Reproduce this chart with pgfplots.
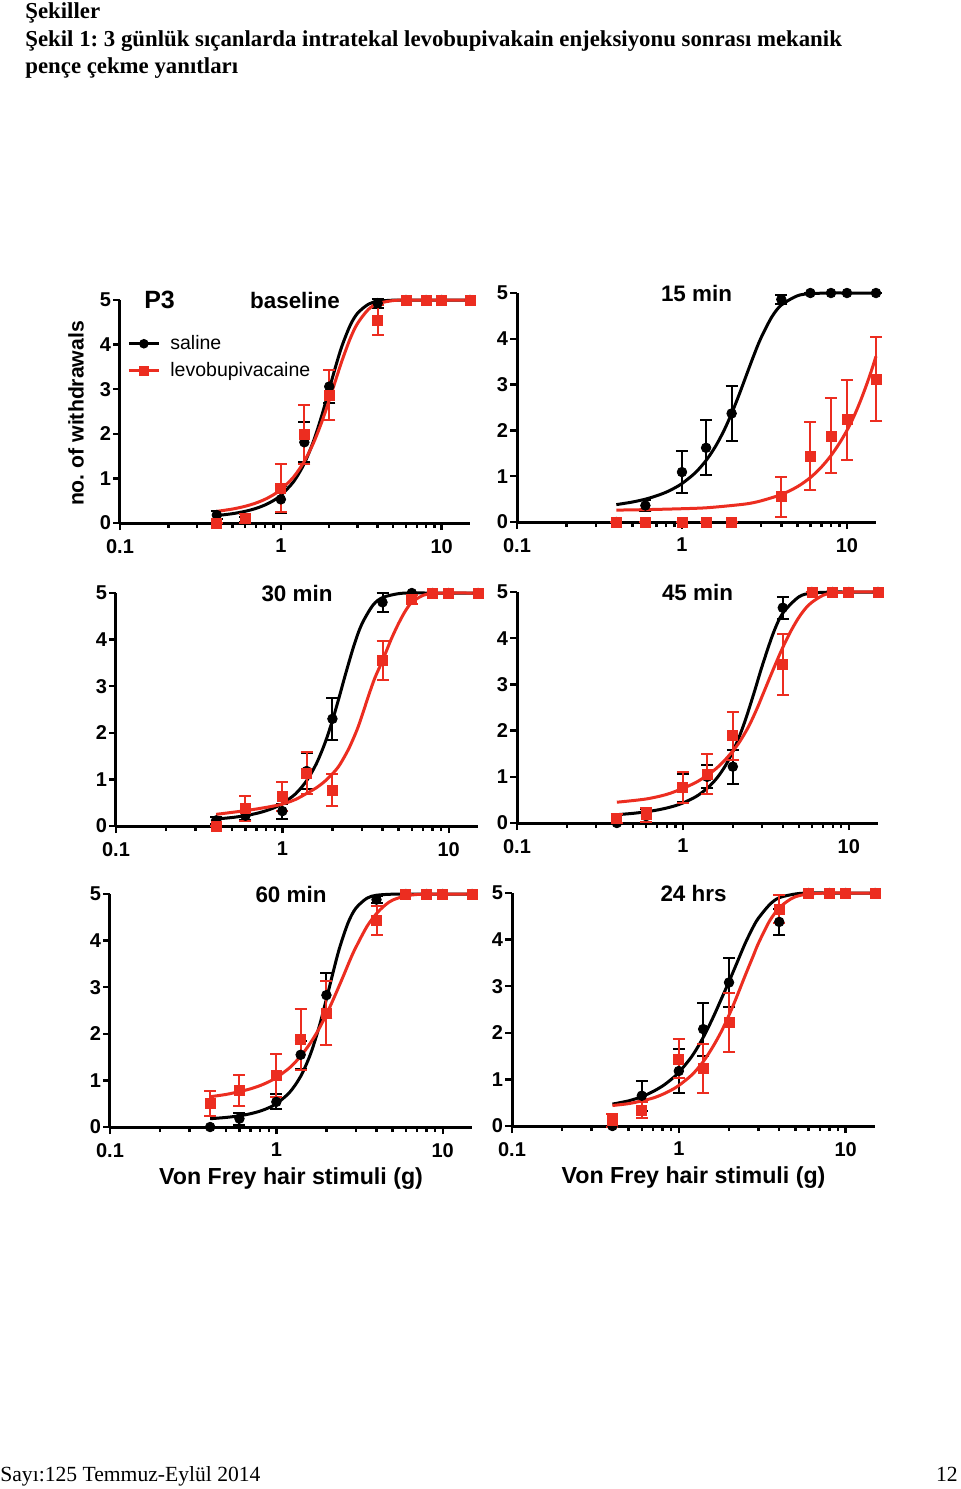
\documentclass[border=0pt]{standalone}
\usepackage{fontspec}
\setmainfont{Liberation Serif}
\setsansfont{Liberation Sans}
\usepackage{pgfplots}
\pgfplotsset{compat=1.18}
\frenchspacing
\definecolor{myred}{RGB}{236,45,32}
\newcommand{\tl}[1]{\textsf{\textbf{#1}}}
\pgfplotsset{
  panel/.style={
    scale only axis,
    xmin=0.1, xmax=15, ymin=0, ymax=5,
    axis lines=left, axis line style={line width=1.5pt, -},
    xtick={0.1,1,10}, xticklabels={\tl{0.1},\tl{1},\tl{10}},
    minor xtick={0.2,0.3,0.4,0.5,0.6,0.7,0.8,0.9,2,3,4,5,6,7,8,9},
    ytick={0,1,2,3,4,5}, yticklabels={\tl{0},\tl{1},\tl{2},\tl{3},\tl{4},\tl{5}},
    tick align=outside, major tick length=3.5pt, minor tick length=2.5pt,
    every tick/.style={black, line width=1.2pt},
    tick label style={font=\sffamily\bfseries\fontsize{10}{12}\selectfont},
    xticklabel style={yshift=-1pt},
    yticklabel style={xshift=2.5pt},
    clip=false, anchor=south west,
  },
  blkc/.style={black, line width=1.5pt, smooth, no markers, forget plot},
  redc/.style={myred, line width=1.5pt, smooth, no markers, forget plot},
  blkp/.style={black, only marks, mark=*, mark size=2.4pt, forget plot,
    error bars/y dir=both, error bars/y explicit,
    error bars/error bar style={line width=1pt, black},
    error bars/error mark options={line width=1pt, mark size=3pt, black, rotate=90}},
  redp/.style={myred, only marks, mark=square*, mark size=2.5pt, forget plot,
    error bars/y dir=both, error bars/y explicit,
    error bars/error bar style={line width=1pt, myred},
    error bars/error mark options={line width=1pt, mark size=3pt, myred, rotate=90}},
}
\newcommand{\ttl}[1]{\node[font=\sffamily\bfseries\fontsize{11.2}{13}\selectfont] at (rel axis cs:0.5,1) {#1};}
\newcommand{\xlab}{\node[font=\sffamily\bfseries\fontsize{11.6}{13}\selectfont] at ([yshift=-26pt]rel axis cs:0.5,0) {Von Frey hair stimuli (g)};}
\begin{document}
\begin{tikzpicture}
\fill[white] (0,0) rectangle (480pt,-744.5pt);
\path[use as bounding box] (0,0) rectangle (480pt,-744.5pt);
% header
\node[anchor=base west, inner sep=0pt, font=\bfseries\fontsize{11.4}{14}\selectfont] at (12.5pt,-9pt) {Şekiller};
\node[anchor=base west, inner sep=0pt, font=\bfseries\fontsize{11.4}{14}\selectfont] at (12.5pt,-23pt) {Şekil 1: 3 günlük sıçanlarda intratekal levobupivakain enjeksiyonu sonrası mekanik};
\node[anchor=base west, inner sep=0pt, font=\bfseries\fontsize{11.4}{14}\selectfont] at (12.5pt,-36.5pt) {pençe çekme yanıtları};
% footer
\node[anchor=base west, inner sep=0pt, font=\fontsize{10.8}{13}\selectfont] at (0pt,-740.5pt) {Sayı:125 Temmuz-Eylül 2014};
\node[anchor=base east, inner sep=0pt, font=\fontsize{10.8}{13}\selectfont] at (479pt,-740.5pt) {12};

% ---------- P1 baseline
\begin{semilogxaxis}[panel, at={(60pt,-261.5pt)}, width=175pt, height=111.5pt,
  legend style={at={(0.02,0.862)}, anchor=north west, draw=none, fill=none,
    font=\sffamily\fontsize{9.75}{12}\selectfont, row sep=1pt, inner sep=0pt},
  legend cell align=left,
  legend image code/.code={\draw[mark repeat=2,mark phase=2,#1] plot coordinates {(0pt,0pt) (7.5pt,0pt) (15pt,0pt)}; \path (18pt,0pt);}]
\addlegendimage{black, line width=1.5pt, mark=*, mark size=1.6pt}
\addlegendentry{saline}
\addlegendimage{myred, line width=1.5pt, mark=square*, mark size=1.8pt}
\addlegendentry{levobupivacaine}
\addplot[blkc] coordinates {(0.4,0.167)(0.5,0.209)(0.6,0.262)(0.7,0.327)(0.8,0.407)(0.9,0.504)(1,0.621)(1.2,0.926)(1.4,1.337)(1.6,1.845)(1.8,2.418)(2,3.001)(2.2,3.531)(2.4,3.970)(2.7,4.433)(3,4.704)(3.5,4.905)(4,4.970)(5,4.997)(6,5)(8,5)(10,5)(15,5)};
\addplot[blkp] table[x=x,y=y,y error=e,row sep=\\]{x y e\\ 0.4 0.18 0.1\\ 0.6 0.08 0.06\\ 1 0.53 0.3\\ 1.4 1.81 0.45\\ 2 3.06 0.36\\ 4 4.93 0.1\\ 6 5 0\\ 8 5 0\\ 10 5 0\\ 15 5 0\\};
\addplot[redc] coordinates {(0.4,0.261)(0.5,0.313)(0.6,0.375)(0.7,0.448)(0.8,0.534)(0.9,0.634)(1,0.750)(1.2,1.031)(1.4,1.385)(1.6,1.805)(1.8,2.273)(2,2.756)(2.2,3.222)(2.4,3.639)(2.7,4.136)(3,4.477)(3.5,4.788)(4,4.918)(5,4.988)(6,4.998)(8,5)(10,5)(15,5)};
\addplot[redp] table[x=x,y=y,y error=e,row sep=\\]{x y e\\ 0.4 0 0\\ 0.6 0.1 0.1\\ 1 0.78 0.54\\ 1.4 1.98 0.66\\ 2 2.87 0.56\\ 4 4.55 0.33\\ 6 5 0\\ 8 5 0\\ 10 5 0\\ 15 5 0\\};
\ttl{baseline}
\node[font=\sffamily\bfseries\fontsize{12.5}{14}\selectfont] at (rel axis cs:0.113,1) {P3};
\node[rotate=90, font=\sffamily\bfseries\fontsize{10.6}{12}\selectfont] at ([xshift=-22pt,yshift=-1pt]rel axis cs:0,0.5) {no. of withdrawals};
\end{semilogxaxis}

% ---------- P2 15 min
\begin{semilogxaxis}[panel, at={(258.5pt,-261pt)}, width=179.5pt, height=114.5pt]
\addplot[blkc] coordinates {(0.4,0.380)(0.5,0.436)(0.6,0.499)(0.7,0.571)(0.8,0.650)(0.9,0.741)(1,0.840)(1.2,1.070)(1.4,1.344)(1.6,1.657)(1.8,2.003)(2,2.371)(2.2,2.744)(2.4,3.108)(2.7,3.600)(3,4.006)(3.5,4.475)(4,4.737)(5,4.939)(6,4.986)(8,5)(10,5)(15,5)};
\addplot[blkp] table[x=x,y=y,y error=e,row sep=\\]{x y e\\ 0.4 0 0\\ 0.6 0.36 0.12\\ 1 1.09 0.45\\ 1.4 1.62 0.6\\ 2 2.37 0.6\\ 4 4.86 0.1\\ 6 5 0\\ 8 5 0\\ 10 5 0\\ 15 5 0\\};
\addplot[redc] coordinates {(0.4,0.26)(0.6,0.27)(1,0.29)(1.4,0.31)(2,0.36)(2.5,0.40)(3,0.46)(4,0.60)(5,0.77)(6,0.97)(7,1.20)(8,1.45)(9,1.72)(10,2.00)(11,2.30)(12,2.62)(13,2.95)(14,3.28)(15,3.62)};
\addplot[redp] table[x=x,y=y,y error=e,row sep=\\]{x y e\\ 0.4 0 0\\ 0.6 0 0\\ 1 0 0\\ 1.4 0 0\\ 2 0 0\\ 4 0.55 0.44\\ 6 1.44 0.74\\ 8 1.88 0.82\\ 10 2.23 0.88\\ 15 3.12 0.91\\};
\ttl{15 min}
\end{semilogxaxis}

% ---------- P3 30 min
\begin{semilogxaxis}[panel, at={(58pt,-413pt)}, width=181pt, height=116.5pt]
\addplot[blkc] coordinates {(0.4,0.150)(0.5,0.183)(0.6,0.223)(0.7,0.271)(0.8,0.329)(0.9,0.398)(1,0.480)(1.2,0.690)(1.4,0.973)(1.6,1.335)(1.8,1.772)(2,2.264)(2.2,2.776)(2.4,3.265)(2.7,3.885)(3,4.329)(3.5,4.737)(4,4.902)(5,4.987)(6,5)(8,5)(10,5)(15,5)};
\addplot[blkp] table[x=x,y=y,y error=e,row sep=\\]{x y e\\ 0.4 0.12 0.08\\ 0.6 0.22 0.1\\ 1 0.32 0.16\\ 1.4 1.18 0.38\\ 2 2.3 0.45\\ 4 4.8 0.2\\ 6 5 0\\ 8 5 0\\ 10 5 0\\ 15 5 0\\};
\addplot[redc] coordinates {(0.4,0.25)(0.6,0.33)(0.8,0.40)(1,0.47)(1.2,0.57)(1.4,0.70)(1.6,0.82)(1.8,0.96)(2,1.12)(2.2,1.30)(2.5,1.65)(2.8,2.05)(3,2.35)(3.3,2.80)(3.6,3.18)(4,3.55)(4.5,4.0)(5,4.35)(5.5,4.62)(6,4.80)(7,4.95)(8,4.99)(10,5)(15,5)};
\addplot[redp] table[x=x,y=y,y error=e,row sep=\\]{x y e\\ 0.4 0 0\\ 0.6 0.37 0.27\\ 1 0.64 0.31\\ 1.4 1.13 0.45\\ 2 0.77 0.35\\ 4 3.55 0.42\\ 6 4.86 0.1\\ 8 5 0\\ 10 5 0\\ 15 5 0\\};
\ttl{30 min}
\end{semilogxaxis}

% ---------- P4 45 min
\begin{semilogxaxis}[panel, at={(258.5pt,-411.5pt)}, width=180.5pt, height=115.5pt]
\addplot[blkc] coordinates {(0.4,0.180)(0.5,0.209)(0.6,0.243)(0.7,0.281)(0.8,0.325)(0.9,0.375)(1,0.433)(1.2,0.572)(1.4,0.750)(1.6,0.969)(1.8,1.234)(2,1.544)(2.2,1.893)(2.4,2.268)(2.7,2.846)(3,3.390)(3.5,4.102)(4,4.542)(5,4.895)(6,4.977)(8,4.999)(10,5)(15,5)};
\addplot[blkp] table[x=x,y=y,y error=e,row sep=\\]{x y e\\ 0.4 0 0\\ 0.6 0.15 0.15\\ 1 0.76 0.3\\ 1.4 1.0 0.25\\ 2 1.22 0.37\\ 4 4.66 0.24\\ 6 5 0\\ 8 5 0\\ 10 5 0\\ 15 5 0\\};
\addplot[redc] coordinates {(0.4,0.45)(0.6,0.52)(0.8,0.62)(1,0.75)(1.2,0.88)(1.4,1.03)(1.6,1.19)(1.8,1.37)(2,1.56)(2.2,1.76)(2.5,2.10)(2.8,2.48)(3,2.74)(3.5,3.32)(4,3.80)(4.5,4.17)(5,4.45)(5.5,4.65)(6,4.78)(7,4.93)(8,4.98)(10,5)(15,5)};
\addplot[redp] table[x=x,y=y,y error=e,row sep=\\]{x y e\\ 0.4 0.09 0.1\\ 0.6 0.18 0.15\\ 1 0.77 0.33\\ 1.4 1.06 0.44\\ 2 1.89 0.52\\ 4 3.44 0.66\\ 6 5 0\\ 8 5 0\\ 10 5 0\\ 15 5 0\\};
\ttl{45 min}
\end{semilogxaxis}

% ---------- P5 60 min
\begin{semilogxaxis}[panel, at={(55pt,-563.5pt)}, width=181pt, height=116.5pt]
\addplot[blkc] coordinates {(0.4,0.178)(0.5,0.206)(0.6,0.241)(0.7,0.286)(0.8,0.342)(0.9,0.413)(1,0.500)(1.2,0.741)(1.4,1.088)(1.6,1.555)(1.8,2.126)(2,2.747)(2.2,3.340)(2.4,3.847)(2.7,4.384)(3,4.692)(3.5,4.909)(4,4.974)(5,4.997)(6,5)(8,5)(10,5)(15,5)};
\addplot[blkp] table[x=x,y=y,y error=e,row sep=\\]{x y e\\ 0.4 0 0\\ 0.6 0.18 0.13\\ 1 0.54 0.16\\ 1.4 1.55 0.3\\ 2 2.83 0.48\\ 4 4.88 0.08\\ 6 5 0\\ 8 5 0\\ 10 5 0\\ 15 5 0\\};
\addplot[redc] coordinates {(0.4,0.65)(0.5,0.70)(0.6,0.76)(0.7,0.82)(0.8,0.89)(0.9,0.97)(1,1.06)(1.2,1.27)(1.4,1.52)(1.6,1.80)(1.8,2.10)(2,2.42)(2.2,2.74)(2.5,3.20)(2.8,3.62)(3,3.85)(3.5,4.30)(4,4.58)(4.5,4.76)(5,4.87)(6,4.96)(7,4.99)(8,5)(10,5)(15,5)};
\addplot[redp] table[x=x,y=y,y error=e,row sep=\\]{x y e\\ 0.4 0.5 0.27\\ 0.6 0.78 0.33\\ 1 1.11 0.46\\ 1.4 1.88 0.66\\ 2 2.44 0.69\\ 4 4.44 0.31\\ 6 5 0\\ 8 5 0\\ 10 5 0\\ 15 5 0\\};
\ttl{60 min}
\xlab
\end{semilogxaxis}

% ---------- P6 24 hrs
\begin{semilogxaxis}[panel, at={(256pt,-563pt)}, width=181.5pt, height=116.5pt]
\addplot[blkc] coordinates {(0.4,0.47)(0.5,0.54)(0.6,0.63)(0.7,0.74)(0.8,0.86)(0.9,1.00)(1,1.15)(1.2,1.50)(1.4,1.90)(1.6,2.32)(1.8,2.73)(2,3.10)(2.2,3.45)(2.5,3.92)(2.8,4.28)(3,4.46)(3.5,4.75)(4,4.90)(5,4.98)(6,5)(8,5)(10,5)(15,5)};
\addplot[blkp] table[x=x,y=y,y error=e,row sep=\\]{x y e\\ 0.4 0 0\\ 0.6 0.65 0.32\\ 1 1.18 0.47\\ 1.4 2.08 0.57\\ 2 3.08 0.53\\ 4 4.38 0.28\\ 6 5 0\\ 8 5 0\\ 10 5 0\\ 15 5 0\\};
\addplot[redc] coordinates {(0.4,0.44)(0.5,0.48)(0.6,0.54)(0.7,0.60)(0.8,0.68)(0.9,0.77)(1,0.87)(1.2,1.10)(1.4,1.38)(1.6,1.70)(1.8,2.03)(2,2.38)(2.2,2.73)(2.5,3.23)(2.8,3.66)(3,3.92)(3.5,4.40)(4,4.68)(4.5,4.83)(5,4.92)(6,4.98)(8,5)(10,5)(15,5)};
\addplot[redp] table[x=x,y=y,y error=e,row sep=\\]{x y e\\ 0.4 0.12 0.14\\ 0.6 0.34 0.17\\ 1 1.44 0.42\\ 1.4 1.23 0.52\\ 2 2.22 0.63\\ 4 4.65 0.3\\ 6 5 0\\ 8 5 0\\ 10 5 0\\ 15 5 0\\};
\ttl{24 hrs}
\xlab
\end{semilogxaxis}
\end{tikzpicture}
\end{document}
